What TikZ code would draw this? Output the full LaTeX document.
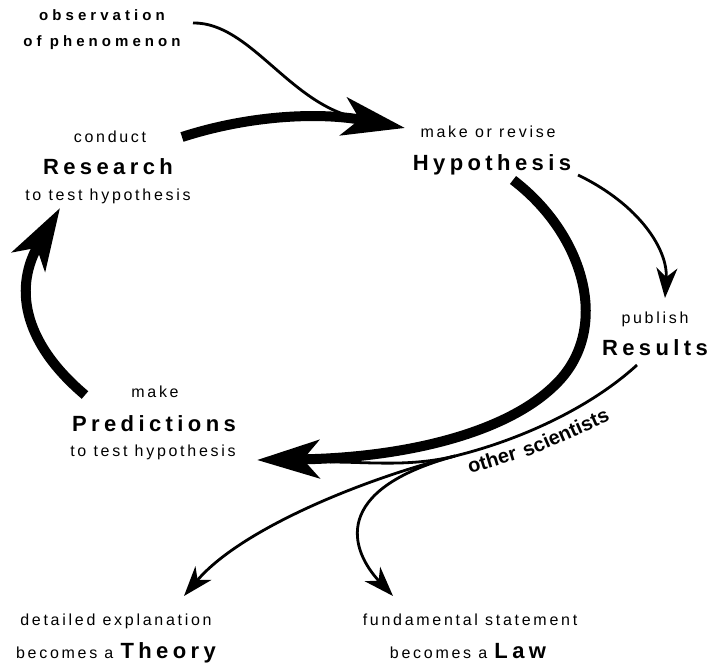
\documentclass[tikz,border=0pt]{standalone}
\usepackage{fontspec}
\setmainfont{Liberation Sans}
\newfontfamily\lblfont[LetterSpace=17]{Liberation Sans}
\newfontfamily\obsfont[LetterSpace=27]{Liberation Sans}
\newfontfamily\headfont[LetterSpace=20]{Liberation Sans}
\newfontfamily\curvefont{Liberation Sans}
\usetikzlibrary{arrows.meta}
\newcommand\bigword[1]{{\headfont\bfseries\fontsize{22pt}{26pt}\selectfont #1}}

\tikzset{
  smalltxt/.style={font=\lblfont\fontsize{16pt}{19pt}\selectfont, anchor=base, inner sep=0pt},
  headtxt/.style={font=\headfont\bfseries\fontsize{22pt}{26pt}\selectfont, anchor=base, inner sep=0pt},
  obstxt/.style={font=\obsfont\bfseries\fontsize{15pt}{18pt}\selectfont, anchor=base, inner sep=0pt},
  slanttxt/.style={font=\curvefont\bfseries\fontsize{20pt}{24pt}\selectfont, anchor=base west, inner sep=0pt},
  thinline/.style={line width=2.8pt},
  thinarrow/.style={line width=2.8pt, -{Stealth[length=30pt,width=21pt,inset=9pt]}},
  thickarrow/.style={line width=10pt, -{Stealth[length=62pt,width=38pt,inset=16pt]}},
}

\begin{document}
\begin{tikzpicture}[x=1pt,y=-1pt]
  \useasboundingbox (0,0) rectangle (711,666);

  % labels
  \node[obstxt] (obs1) at (102,21) {observation};
  \node[obstxt] (obs2) at (102,47) {of phenomenon};

  \node[smalltxt] (res1) at (110,142) {conduct};
  \node[headtxt]  (res)  at (108,174) {Research};
  \node[smalltxt] (res2) at (108,200) {to test hypothesis};

  \node[smalltxt] (hyp1) at (488,137) {make or revise};
  \node[headtxt]  (hyp)  at (492,170) {Hypothesis};

  \node[smalltxt] (pub1) at (655,323) {publish};
  \node[headtxt]  (pub)  at (655,355) {Results};

  \node[smalltxt] (pre1) at (155,397) {make};
  \node[headtxt]  (pre)  at (154,431) {Predictions};
  \node[smalltxt] (pre2) at (153,456) {to test hypothesis};

  \node[smalltxt] (thy1) at (116,625) {detailed explanation};
  \node[smalltxt] (thy)  at (116,658) {becomes a \bigword{Theory}};

  \node[smalltxt] (law1) at (470,625) {fundamental statement};
  \node[smalltxt] (law)  at (468,658) {becomes a \bigword{Law}};

  % connector end points
  \coordinate (obsS)  at (193,23);
  \coordinate (obsE)  at (358,118);
  \coordinate (resS)  at (182,137);
  \coordinate (hypT)  at (405,128);
  \coordinate (hypS)  at (578,175);
  \coordinate (pubT)  at (665,298);
  \coordinate (loopS) at (513,180);
  \coordinate (loopM) at (555,385);
  \coordinate (preT)  at (257,460);
  \coordinate (preS)  at (85,395);
  \coordinate (resT)  at (60,208);
  \coordinate (pubS)  at (637,365);
  \coordinate (split) at (455,456);
  \coordinate (merge) at (330,462);
  \coordinate (thyT)  at (184,596);
  \coordinate (lawT)  at (393,596);

  % observation feeds the hypothesis
  \draw[thinline] (obsS) .. controls (250,22) and (290,105) .. (obsE);

  % results shared with other scientists
  \draw[thinline] (pubS) .. controls (590,408) and (520,440) .. (split);
  \draw[thinline] (split) .. controls (410,467) and (370,462) .. (merge);
  \draw[thinarrow] (split) .. controls (360,480) and (240,530) .. (thyT);
  \draw[thinarrow] (split) .. controls (330,490) and (350,550) .. (lawT);

  % hypothesis to results
  \draw[thinarrow] (hypS) .. controls (640,205) and (668,250) .. (pubT);

  % main cycle
  \draw[thickarrow] (resS) .. controls (250,115) and (320,112) .. (hypT);
  \draw[thickarrow] (loopS) .. controls (585,235) and (612,330) .. (loopM)
                            .. controls (504,435) and (400,458) .. (preT);
  \draw[thickarrow] (preS) .. controls (20,340) and (15,285) .. (resT);

  % slanted caption along the results branch
  \node[slanttxt, rotate=17] (os1) at (470,474) {other};
  \node[slanttxt, rotate=24] (os2) at (526,458) {scientists};
\end{tikzpicture}
\end{document}
